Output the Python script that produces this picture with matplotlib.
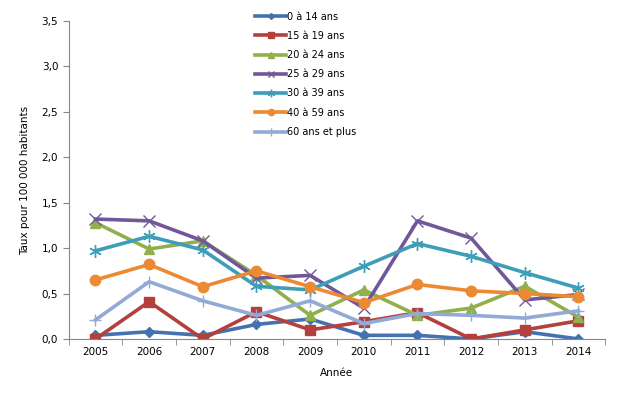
import numpy as np
import matplotlib.pyplot as plt

annees = [2005, 2006, 2007, 2008, 2009, 2010, 2011, 2012, 2013, 2014]

age_0_14 = [0.04, 0.08, 0.04, 0.16, 0.22, 0.04, 0.04, 0.00, 0.08, 0.00]
age_15_19 = [0.00, 0.41, 0.00, 0.30, 0.10, 0.19, 0.29, 0.00, 0.10, 0.20]
age_20_24 = [1.28, 0.99, 1.08, 0.70, 0.26, 0.54, 0.26, 0.34, 0.58, 0.24]
age_25_29 = [1.32, 1.30, 1.08, 0.67, 0.70, 0.34, 1.30, 1.11, 0.43, 0.49]
age_30_39 = [0.97, 1.13, 0.98, 0.58, 0.54, 0.80, 1.05, 0.91, 0.73, 0.56]
age_40_59 = [0.65, 0.82, 0.575, 0.75, 0.575, 0.40, 0.60, 0.53, 0.50, 0.465]
age_60_plus = [0.21, 0.63, 0.42, 0.26, 0.42, 0.17, 0.28, 0.26, 0.23, 0.31]

series = [
    ('0 à 14 ans', age_0_14, '#4472B0', 'D', 5),
    ('15 à 19 ans', age_15_19, '#B3403D', 's', 7.5),
    ('20 à 24 ans', age_20_24, '#8FB04D', '^', 7.5),
    ('25 à 29 ans', age_25_29, '#71569A', 'x', 8),
    ('30 à 39 ans', age_30_39, '#3E9EB8', (6, 2, 0), 9),
    ('40 à 59 ans', age_40_59, '#EC8A34', 'o', 7.5),
    ('60 ans et plus', age_60_plus, '#92AAD6', '+', 9),
]

fig = plt.figure(figsize=(6.24, 3.96), dpi=100)
ax = fig.add_axes([0.110, 0.144, 0.860, 0.803])

x = np.arange(len(annees))
for nom, vals, col, mk, ms in series:
    ax.plot(x, vals, color=col, linewidth=2.6, marker=mk, markersize=ms,
            markeredgecolor=col, markerfacecolor=col, markeredgewidth=1.0,
            label=nom)

ax.set_xlim(-0.5, len(annees) - 0.5)
ax.set_ylim(0, 3.5)
ax.set_yticks(np.arange(0, 3.51, 0.5))
ax.set_yticklabels([f'{v:.1f}'.replace('.', ',') for v in np.arange(0, 3.51, 0.5)])
ax.set_xticks(x)
ax.set_xticklabels([str(a) for a in annees])
# ticks entre les categories
ax.set_xticks(np.arange(-0.5, len(annees), 1), minor=True)
ax.tick_params(axis='x', which='major', length=0, labelsize=7.5, pad=6)
ax.tick_params(axis='x', which='minor', length=4, color='#868686')
ax.tick_params(axis='y', length=4, color='#868686', labelsize=7.5)

for s in ['top', 'right']:
    ax.spines[s].set_visible(False)
for s in ['left', 'bottom']:
    ax.spines[s].set_color('#868686')

ax.set_xlabel('Année', fontsize=7.5, labelpad=8)
ax.set_ylabel('Taux pour 100 000 habitants', fontsize=7.5, labelpad=8)

ax.legend(loc='upper left', bbox_to_anchor=(0.395, 0.993), bbox_transform=fig.transFigure,
          frameon=False, fontsize=7, handlelength=3.2, handletextpad=0.1,
          labelspacing=0.95, markerscale=0.6)

fig.savefig('out.png', dpi=100)
